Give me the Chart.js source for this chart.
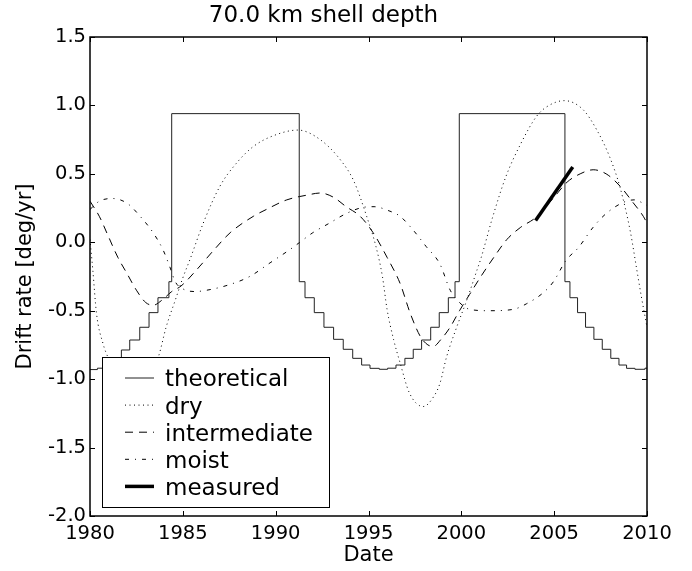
<!DOCTYPE html>
<html>
<head>
<meta charset="utf-8">
<script src="https://cdn.jsdelivr.net/npm/chart.js@4.4.1/dist/chart.umd.min.js"></script>
<style>
  html, body { margin: 0; padding: 0; background: #fff; }
</style>
</head>
<body>
<canvas id="chart" width="692" height="571"></canvas>
<script>
// 1. Data
const xTicks = [1980, 1985, 1990, 1995, 2000, 2005, 2010];
const yTicks = [-2.0, -1.5, -1.0, -0.5, 0.0, 0.5, 1.0, 1.5];

const theoYears = [1980, 1980.4, 1980.9, 1981.3, 1981.69, 1982.14, 1982.68, 1983.18, 1983.66, 1984.25, 1984.4,
    1991.27, 1991.58, 1992.08, 1992.6, 1993.12, 1993.64, 1994.15, 1994.63, 1995.08, 1995.58, 1996.03, 1996.48,
    1996.96, 1997.41, 1997.86, 1998.35, 1998.81, 1999.3, 1999.66, 1999.89,
    2005.58, 2005.85, 2006.26, 2006.69, 2007.14, 2007.59, 2008.05, 2008.49, 2008.9, 2009.35, 2009.89, 2010];
const theoValues = [-0.93, -0.92, -0.897, -0.848, -0.787, -0.714, -0.621, -0.514, -0.405, -0.288, 0.94,
    -0.288, -0.405, -0.514, -0.621, -0.709, -0.782, -0.848, -0.897, -0.921, -0.928, -0.92, -0.897,
    -0.848, -0.782, -0.714, -0.621, -0.514, -0.405, -0.288, 0.94,
    -0.288, -0.405, -0.514, -0.621, -0.709, -0.782, -0.848, -0.897, -0.921, -0.928, -0.92, -0.92];

const dryYears = [1980, 1980.15, 1980.35, 1980.7, 1981, 1981.5, 1982, 1982.5, 1983, 1983.4, 1983.7, 1984.1,
    1984.6, 1985, 1985.4, 1986.1, 1987, 1987.9, 1988.8, 1989.9, 1991.2, 1992.4, 1993.5, 1994.2, 1994.9,
    1995.4, 1995.75, 1996, 1996.35, 1996.7, 1997.2, 1997.95, 1998.5, 1998.85, 1999.2, 1999.75, 2000.3,
    2000.85, 2001.05, 2001.7, 2002.4, 2003.2, 2004.05, 2004.6, 2005.55, 2006.55, 2007.3, 2008, 2008.55,
    2009.1, 2009.45, 2009.7, 2010];
const dryValues = [0.02, -0.2, -0.52, -0.74, -0.85, -0.98, -1.04, -1.05, -1.0, -0.92, -0.83, -0.62,
    -0.42, -0.26, -0.12, 0.14, 0.41, 0.58, 0.70, 0.78, 0.82, 0.75, 0.60, 0.45, 0.19,
    -0.03, -0.25, -0.49, -0.71, -0.88, -1.10, -1.20, -1.13, -1.03, -0.84, -0.62, -0.42,
    -0.2, -0.12, 0.19, 0.48, 0.72, 0.92, 0.99, 1.035, 0.97, 0.82, 0.62, 0.40,
    0.08, -0.20, -0.40, -0.62];

const interYears = [1980, 1980.5, 1981, 1981.5, 1982, 1982.5, 1983, 1983.4, 1983.9, 1984.4, 1984.9, 1985.75,
    1986.65, 1987.55, 1988.8, 1989.5, 1990.6, 1991.7, 1992.4, 1993.1, 1993.8, 1994.55, 1995.25, 1996,
    1996.7, 1997.25, 1997.8, 1998.2, 1998.5, 1998.9, 1999.4, 1999.9, 2000.45, 2001.1, 2001.75, 2002.45,
    2003.2, 2004, 2005, 2005.7, 2006.4, 2007.1, 2007.8, 2008.55, 2009.25, 2009.8, 2010];
const interValues = [0.30, 0.19, 0.04, -0.11, -0.23, -0.35, -0.44, -0.46, -0.42, -0.36, -0.32, -0.20,
    -0.06, 0.07, 0.19, 0.24, 0.31, 0.345, 0.36, 0.33, 0.26, 0.19, 0.07, -0.11,
    -0.30, -0.52, -0.69, -0.75, -0.76, -0.71, -0.62, -0.50, -0.38, -0.24, -0.11, 0.02,
    0.11, 0.18, 0.33, 0.44, 0.50, 0.53, 0.50, 0.41, 0.29, 0.19, 0.14];

const moistYears = [1980, 1980.5, 1981.2, 1982, 1982.7, 1983.4, 1983.95, 1984.3, 1984.6, 1985, 1985.65,
    1986.3, 1987.5, 1988.6, 1989.7, 1990.8, 1991.3, 1992, 1992.9, 1993.8, 1994.7, 1995.3, 1996.1, 1996.7,
    1997.4, 1998.1, 1998.85, 1999.4, 1999.9, 2000.45, 2001.5, 2002.8, 2003.5, 2004.4, 2004.95, 2005.65,
    2006.3, 2007.1, 2007.8, 2008.7, 2009.3, 2010];
const moistValues = [0.24, 0.30, 0.32, 0.285, 0.19, 0.07, -0.06, -0.18, -0.29, -0.34, -0.36,
    -0.35, -0.31, -0.25, -0.15, -0.05, 0.0, 0.07, 0.14, 0.21, 0.255, 0.26, 0.23, 0.19,
    0.09, -0.03, -0.16, -0.35, -0.44, -0.49, -0.50, -0.49, -0.45, -0.37, -0.29, -0.13,
    -0.04, 0.11, 0.21, 0.29, 0.31, 0.27];

const measuredYears = [2004.0, 2006.0];
const measuredValues = [0.16, 0.55];

const seriesLabels = ['theoretical', 'dry', 'intermediate', 'moist', 'measured'];

// 2. Helpers
const FONT = "'DejaVu Sans', sans-serif";
const toPoints = (xs, ys) => xs.map((x, i) => ({ x, y: ys[i] }));

const styles = [
    { width: 1, dash: [], color: '#222' },
    { width: 1, dash: [1, 3.5], color: '#000' },
    { width: 1, dash: [8, 6], color: '#000' },
    { width: 1, dash: [4, 6, 1, 6], color: '#000' },
    { width: 3.5, dash: [], color: '#000' }
];

// legend box inside the plot, like matplotlib's 'lower left'
const boxLegend = {
    id: 'boxLegend',
    afterDatasetsDraw(chart) {
        const { ctx, chartArea: a } = chart;
        const left = a.left + 12, top = a.top + 320, w = 227, h = 150;
        ctx.save();
        ctx.fillStyle = '#fff';
        ctx.fillRect(left, top, w, h);
        ctx.strokeStyle = '#000';
        ctx.lineWidth = 1;
        ctx.strokeRect(left + 0.5, top + 0.5, w, h);
        ctx.font = `23px ${FONT}`;
        ctx.fillStyle = '#000';
        ctx.textBaseline = 'alphabetic';
        seriesLabels.forEach((label, i) => {
            const yy = top + 21 + i * 27.1;
            ctx.beginPath();
            ctx.setLineDash(styles[i].dash);
            ctx.lineWidth = styles[i].width;
            ctx.strokeStyle = styles[i].color;
            ctx.moveTo(left + 23, yy);
            ctx.lineTo(left + 52, yy);
            ctx.stroke();
            ctx.setLineDash([]);
            ctx.fillText(label, left + 63, yy + 8.4);
        });
        ctx.restore();
    }
};

// frame on four sides with inward ticks
const frameTicks = {
    id: 'frameTicks',
    afterDraw(chart) {
        const { ctx, chartArea: a, scales: { x, y } } = chart;
        ctx.save();
        ctx.strokeStyle = '#000';
        ctx.lineWidth = 1.5;
        ctx.strokeRect(a.left, a.top, a.right - a.left, a.bottom - a.top);
        ctx.lineWidth = 1;
        ctx.beginPath();
        xTicks.forEach(v => {
            const px = Math.round(x.getPixelForValue(v)) + 0.5;
            ctx.moveTo(px, a.bottom); ctx.lineTo(px, a.bottom - 5);
            ctx.moveTo(px, a.top); ctx.lineTo(px, a.top + 5);
        });
        yTicks.forEach(v => {
            const py = Math.round(y.getPixelForValue(v)) + 0.5;
            ctx.moveTo(a.left, py); ctx.lineTo(a.left + 5, py);
            ctx.moveTo(a.right, py); ctx.lineTo(a.right - 5, py);
        });
        ctx.stroke();
        ctx.restore();
    }
};

// 3. Chart
Chart.defaults.font.family = FONT;
Chart.defaults.color = '#000';

const seriesData = [
    toPoints(theoYears, theoValues),
    toPoints(dryYears, dryValues),
    toPoints(interYears, interValues),
    toPoints(moistYears, moistValues),
    toPoints(measuredYears, measuredValues)
];

new Chart(document.getElementById('chart'), {
    type: 'line',
    data: {
        datasets: seriesData.map((pts, i) => ({
            label: seriesLabels[i],
            data: pts,
            borderColor: styles[i].color,
            borderWidth: styles[i].width,
            borderDash: styles[i].dash,
            pointRadius: 0,
            fill: false,
            stepped: i === 0 ? 'before' : false,
            cubicInterpolationMode: i === 0 || i === 4 ? 'default' : 'monotone',
            tension: 0,
            order: i === 4 ? 0 : 1
        }))
    },
    options: {
        responsive: false,
        animation: false,
        layout: { padding: { left: 0, right: 45, top: 0, bottom: 0 } },
        plugins: {
            legend: { display: false },
            tooltip: { enabled: false },
            title: {
                display: true,
                text: '70.0 km shell depth',
                font: { size: 23, weight: 'normal' },
                color: '#000',
                padding: { top: 2, bottom: 7.4 }
            }
        },
        scales: {
            x: {
                type: 'linear',
                min: 1980,
                max: 2010,
                grid: { display: false, drawTicks: false },
                border: { display: false },
                ticks: {
                    stepSize: 5,
                    padding: 6,
                    font: { size: 19.5 },
                    color: '#000',
                    maxRotation: 0,
                    callback: v => String(v)
                },
                title: {
                    display: true,
                    text: 'Date',
                    font: { size: 21 },
                    color: '#000',
                    padding: { top: 0, bottom: 3 }
                },
                afterFit: s => { s.height = 55; }
            },
            y: {
                type: 'linear',
                min: -2,
                max: 1.5,
                grid: { display: false, drawTicks: false },
                border: { display: false },
                ticks: {
                    stepSize: 0.5,
                    padding: 4,
                    font: { size: 19.5 },
                    color: '#000',
                    callback: v => v.toFixed(1)
                },
                title: {
                    display: true,
                    text: 'Drift rate [deg/yr]',
                    font: { size: 21 },
                    color: '#000',
                    padding: { top: 13, bottom: 0 }
                },
                afterFit: s => { s.width = 90; }
            }
        }
    },
    plugins: [boxLegend, frameTicks]
});
</script>
</body>
</html>
